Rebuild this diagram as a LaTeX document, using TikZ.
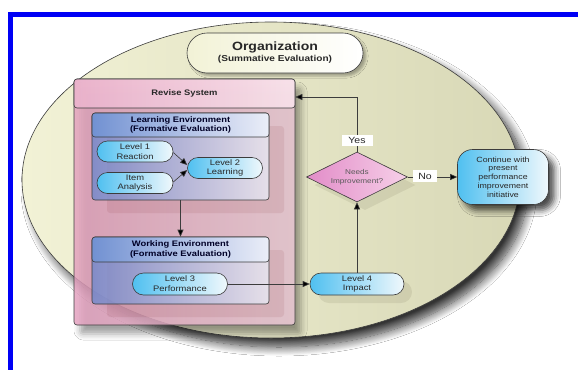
\documentclass[tikz,border=0pt]{standalone}
\usepackage{fontspec}
\setmainfont{Liberation Sans}[FakeStretch=1.17]
\usetikzlibrary{shapes.geometric,shapes.misc,arrows.meta,shadows,shadows.blur}
\definecolor{frameblue}{RGB}{0,0,245}
\definecolor{beigeD}{RGB}{216,216,182}
\definecolor{beigeL}{RGB}{242,242,214}
\definecolor{levelC}{RGB}{80,192,240}
\definecolor{levelL}{RGB}{240,248,252}
\definecolor{envB}{RGB}{104,134,206}
\definecolor{envH}{RGB}{112,146,212}
\definecolor{envL}{RGB}{236,240,250}
\definecolor{pinkA}{RGB}{230,160,192}
\definecolor{pinkB}{RGB}{244,208,222}
\definecolor{diaA}{RGB}{226,140,200}
\definecolor{diaB}{RGB}{246,208,232}
\definecolor{linec}{RGB}{60,60,60}
\definecolor{txt}{RGB}{40,40,40}
\begin{document}
\begin{tikzpicture}[x=1pt,y=-1pt,
  every node/.style={inner sep=0pt, text=txt},
  outline/.style={draw=linec, line width=0.6pt},
  lvl/.style={outline, rounded rectangle, left color=levelC, right color=levelL,
     align=center, font=\fontsize{8}{9.8}\selectfont},
  envbody/.style={outline, rounded corners=3pt, left color=envB, right color=envL, fill opacity=0.75,
     general shadow={fill=black!60!red, fill opacity=0.08, shadow xshift=15pt, shadow yshift=-13pt}},
  envhead/.style={outline, rounded corners=3pt, left color=envH, right color=envL, fill opacity=0.9,
     text opacity=1, align=center, font=\fontsize{8}{9.8}\selectfont\bfseries, text=black!85!blue},
  offshadow/.style={general shadow={fill=black!70!yellow, fill opacity=0.12, shadow xshift=8pt, shadow yshift=-8pt}},
  arr/.style={draw=linec, line width=0.6pt, -{Triangle[length=7pt,width=6pt,fill=black]}},
  lbl/.style={fill=white, align=center, font=\fontsize{9}{10}\selectfont}
]
\useasboundingbox (0,0) rectangle (578,370);
\fill[white] (0,0) rectangle (578,370);
% blue frame
\fill[frameblue] (8,12) rectangle (578,17);
\fill[frameblue] (8,12) rectangle (13,370);

% organization ellipse
\node[ellipse, outline, minimum width=498pt, minimum height=316pt,
  left color=beigeL, right color=beigeD,
  blur shadow={shadow xshift=8pt, shadow yshift=-9pt, shadow opacity=80, shadow blur radius=9pt, shadow blur steps=14}]
  (orgarea) at (271,180) {};

\node[rounded rectangle, outline, minimum width=176pt, minimum height=40pt,
  left color=beigeL, right color=white, align=center,
  blur shadow={shadow xshift=3pt, shadow yshift=-3pt, shadow opacity=30}]
  (org) at (275,53) {{\fontsize{12}{13}\selectfont\bfseries Organization}\\[-1pt]{\fontsize{8.6}{10}\selectfont\bfseries (Summative Evaluation)}};

% revise system box
\node[outline, rounded corners=3pt, minimum width=221pt, minimum height=246pt,
  left color=pinkA, right color=pinkB, fill opacity=0.8,
  blur shadow={shadow xshift=6pt, shadow yshift=-9pt, shadow opacity=45, shadow blur radius=6pt}]
  (rsbox) at (184.5,202) {};
\node[outline, rounded corners=3pt, minimum width=221pt, minimum height=29pt,
  left color=pinkA!80!white, right color=pinkB!60!white, fill opacity=0.9, text opacity=1,
  font=\fontsize{8}{9}\selectfont\bfseries]
  (rshead) at (184.5,93.5) {Revise System};

% learning environment
\node[envbody, minimum width=177pt, minimum height=87pt] (lebox) at (180.5,156.5) {};
\node[envhead, minimum width=177pt, minimum height=24pt] (lehead) at (180.5,125)
  {Learning Environment\\(Formative Evaluation)};
\node[lvl, minimum width=76pt, minimum height=21pt] (l1) at (135,151.5) {Level 1\\Reaction};
\node[lvl, minimum width=76pt, minimum height=21pt] (item) at (135,183) {Item\\Analysis};
\node[lvl, minimum width=75pt, minimum height=21pt] (l2) at (225,168) {Level 2\\Learning};

% working environment
\node[envbody, minimum width=177pt, minimum height=67pt] (webox) at (180.5,270.5) {};
\node[envhead, minimum width=177pt, minimum height=25pt] (wehead) at (180.5,249.5)
  {Working Environment\\(Formative Evaluation)};
\node[lvl, minimum width=95pt, minimum height=22pt] (l3) at (180,284) {Level 3\\Performance};

% right side
\node[lvl, offshadow, minimum width=94pt, minimum height=22pt] (l4) at (357,284) {Level 4\\Impact};
\node[diamond, outline, offshadow, minimum width=101pt, minimum height=50pt, aspect=2,
  left color=diaA, right color=diaB, align=center, font=\fontsize{7}{9}\selectfont, text=black!65]
  (dia) at (357,177) {Needs\\Improvement?};
\node[outline, rounded corners=15pt, minimum width=91pt, minimum height=55pt,
  left color=levelC, right color=levelL, align=center, font=\fontsize{7.5}{8.7}\selectfont,
  blur shadow={shadow xshift=6pt, shadow yshift=-6pt, shadow opacity=70, shadow blur radius=6pt}]
  (cont) at (503,177) {Continue with\\present\\performance\\improvement\\initiative};

% connectors
\draw[arr] ([yshift=-1pt]l1.east) -- ([yshift=3pt]l2.west);
\draw[arr] ([yshift=1pt]item.east) -- ([yshift=-2pt]l2.west);
\draw[arr] (lebox.south) -- (wehead.north);
\draw[arr] (l3.east) -- (l4.west);
\draw[arr] (l4.north) -- (dia.south);
\draw[arr] (dia.north) |- ([yshift=-3.5pt]rshead.east);
\draw[arr] (dia.east) -- (cont.west);
\node[lbl, minimum width=31pt, minimum height=11pt] (yes) at (357,140) {Yes};
\node[lbl, minimum width=24pt, minimum height=12pt] (no) at (425,176) {No};
\end{tikzpicture}
\end{document}
